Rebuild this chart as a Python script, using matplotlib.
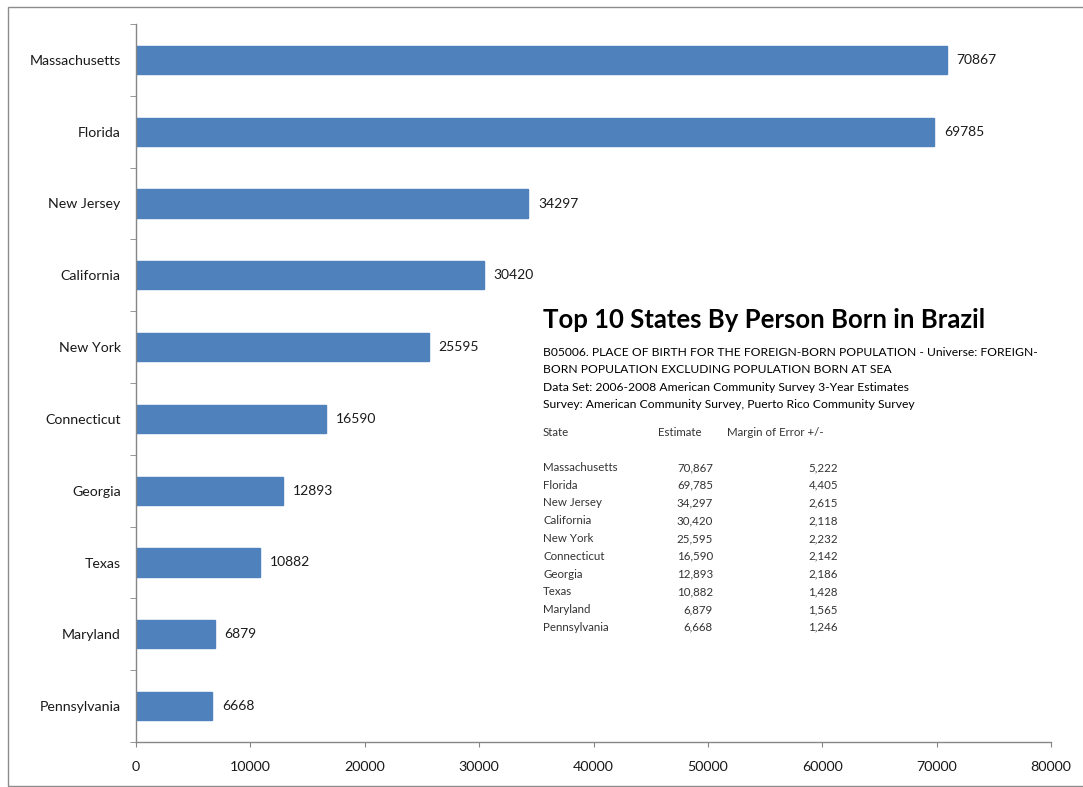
import matplotlib
matplotlib.use("Agg")
import matplotlib.pyplot as plt
from matplotlib.patches import Rectangle
from matplotlib.ticker import FixedLocator

plt.rcParams['font.family'] = ['Lato', 'DejaVu Sans']

states = ["Massachusetts", "Florida", "New Jersey", "California", "New York",
          "Connecticut", "Georgia", "Texas", "Maryland", "Pennsylvania"]
estimates = [70867, 69785, 34297, 30420, 25595, 16590, 12893, 10882, 6879, 6668]
margins = [5222, 4405, 2615, 2118, 2232, 2142, 2186, 1428, 1565, 1246]
xticks = [0, 10000, 20000, 30000, 40000, 50000, 60000, 70000, 80000]

title = "Top 10 States By Person Born in Brazil"
sub_lines = [
    "B05006. PLACE OF BIRTH FOR THE FOREIGN-BORN POPULATION - Universe: FOREIGN-",
    "BORN POPULATION EXCLUDING POPULATION BORN AT SEA",
    "Data Set: 2006-2008 American Community Survey 3-Year Estimates",
    "Survey: American Community Survey, Puerto Rico Community Survey",
]
headers = ["State", "Estimate", "Margin of Error +/-"]

W, H = 1083, 787
fig = plt.figure(figsize=(W / 100, H / 100), dpi=100)

def fx(px):
    return px / W

def fy(py):
    return 1 - py / H

# outer frame
fig.patches.append(Rectangle((fx(8), fy(786)), fx(1090) - fx(8), fy(7) - fy(786),
                             transform=fig.transFigure, fill=False,
                             edgecolor="#8c8c8c", linewidth=1.0))

ax = fig.add_axes([fx(136), fy(742), fx(1051) - fx(136), fy(24) - fy(742)])
ypos = list(range(len(states)))
ax.barh(ypos, estimates, height=0.39, color="#4F81BD", edgecolor="#4F81BD")
ax.set_ylim(len(states) - 0.5, -0.5)
ax.set_xlim(0, 80000)
ax.set_xticks(xticks)
ax.set_xticklabels([str(v) for v in xticks])
ax.set_yticks(ypos)
ax.set_yticklabels(states)
ax.yaxis.set_minor_locator(FixedLocator([i - 0.5 for i in range(len(states) + 1)]))

for s in ["top", "right"]:
    ax.spines[s].set_visible(False)
for s in ["left", "bottom"]:
    ax.spines[s].set_color("#868686")
    ax.spines[s].set_linewidth(1.0)

ax.tick_params(axis="y", which="major", length=0, pad=11, labelsize=10.2, colors="#1a1a1a")
ax.tick_params(axis="y", which="minor", length=4.5, color="#868686", direction="out")
ax.tick_params(axis="x", which="major", length=3.5, color="#868686", direction="out",
               pad=10.5, labelsize=10.3, labelcolor="#1a1a1a")

for y, v in zip(ypos, estimates):
    ax.annotate(str(v), xy=(v, y), xytext=(7, 0), textcoords="offset points",
                ha="left", va="center", fontsize=10, color="#1a1a1a")

# text block
fig.text(fx(543), fy(320), title, fontsize=18.5, fontweight="bold",
         ha="left", va="center", color="black")
for i, line in enumerate(sub_lines):
    fig.text(fx(543), fy(352 + i * 17.5), line, fontsize=8.7,
             ha="left", va="center", color="black")

fig.text(fx(543), fy(432), headers[0], fontsize=8.3, ha="left", va="center", color="#333333")
fig.text(fx(658), fy(432), headers[1], fontsize=8.3, ha="left", va="center", color="#333333")
fig.text(fx(727), fy(432), headers[2], fontsize=8.3, ha="left", va="center", color="#333333")

for i, (s, e, m) in enumerate(zip(states, estimates, margins)):
    yy = fy(467.5 + i * 17.75)
    fig.text(fx(543), yy, s, fontsize=8.3, ha="left", va="center", color="#333333")
    fig.text(fx(713), yy, f"{e:,}", fontsize=8.3, ha="right", va="center", color="#333333")
    fig.text(fx(838), yy, f"{m:,}", fontsize=8.3, ha="right", va="center", color="#333333")

fig.savefig("out.png", dpi=100)
